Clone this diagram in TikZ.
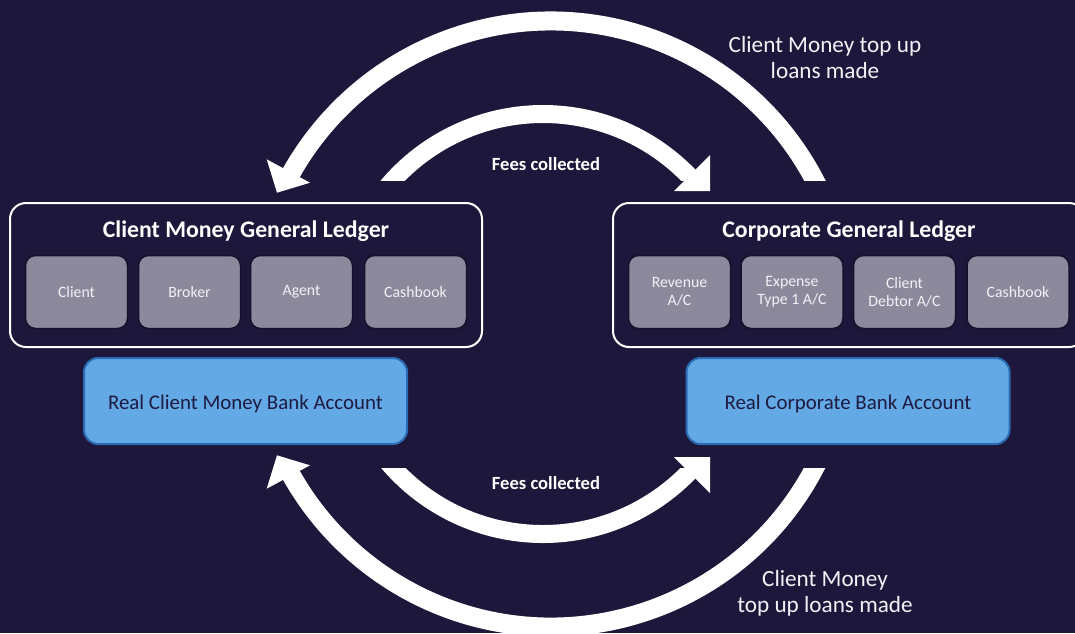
\documentclass[tikz,border=0pt]{standalone}
\usepackage{fontspec}
\setmainfont{Carlito}
\definecolor{bg}{HTML}{1D183B}
\definecolor{subfill}{HTML}{8D899C}
\definecolor{subline}{HTML}{15112C}
\definecolor{bankfill}{HTML}{63A9E6}
\definecolor{bankline}{HTML}{2A6BB3}
\definecolor{banktext}{HTML}{1E1A40}
\definecolor{labeltext}{HTML}{F2F1F6}
\tikzset{
  ledger/.style={draw=white, line width=2pt, rounded corners=16pt, minimum width=472pt, minimum height=144pt},
  ledgertitle/.style={text=white, font=\bfseries\fontsize{23.8}{28}\selectfont},
  subbox/.style={fill=subfill, draw=subline, line width=1.5pt, rounded corners=10pt, minimum width=102pt, minimum height=73pt, text=labeltext, align=center, font=\fontsize{15.8}{18}\selectfont},
  bankbox/.style={fill=bankfill, draw=bankline, line width=2pt, rounded corners=14pt, minimum width=323pt, minimum height=86pt, text=banktext, font=\fontsize{20.9}{24}\selectfont, text height=19pt, text depth=2pt},
  feeslabel/.style={text=white, font=\bfseries\fontsize{18.6}{22}\selectfont},
  flowlabel/.style={text=labeltext, align=center, font=\fontsize{23.2}{26}\selectfont},
  shaftbig/.style={draw=white, line width=19pt},
  shaftsmall/.style={draw=white, line width=18pt},
  headfill/.style={fill=white}
}
\begin{document}
\begin{tikzpicture}[x=1pt,y=-1pt]
\fill[bg] (0,0) rectangle (1075,633);
\useasboundingbox (0,0) rectangle (1075,633);
\clip (0,0) rectangle (1075,633);

% ledgers
\node[ledger] (cmgl) at (246,275) {};
\node[ledgertitle] (cmglT) at (246,231) {Client Money General Ledger};
\node[subbox] (sClient) at (76.5,292) {Client};
\node[subbox] (sBroker) at (189.5,292) {Broker};
\node[subbox] (sAgent) at (301.5,292) {Agent};
\node[subbox] (sCash1) at (415.5,292) {Cashbook};

\node[ledger] (cgl) at (849,275) {};
\node[ledgertitle] (cglT) at (849,231) {Corporate General Ledger};
\node[subbox] (sRev) at (679.5,292) {Revenue\\A/C};
\node[subbox] (sExp) at (792,292) {Expense\\Type 1 A/C};
\node[subbox] (sDeb) at (904.5,292) {Client\\Debtor A/C};
\node[subbox] (sCash2) at (1018,292) {Cashbook};

% banks
\node[bankbox] (bankL) at (245.5,401) {Real Client Money Bank Account};
\node[bankbox] (bankR) at (848,401) {Real Corporate Bank Account};

% arrow tails (free ends)
\coordinate (aTail) at (819.6,190);
\coordinate (bTail) at (385.24,189.25);
\coordinate (cTail) at (385.24,458.75);
\coordinate (dTail) at (819.6,458);

% top arrows
\begin{scope}
\clip (0,0) rectangle (1075,180);
\draw[shaftbig] (aTail) arc[start angle=-25.65, end angle=-151.5, radius=298];
\draw[shaftsmall] (bTail) arc[start angle=-141, end angle=-43, radius=203];
\end{scope}
\fill[headfill] (266.7,159.3) -- (277,192.7) -- (310,182.7) -- cycle;
\fill[headfill] (710,155) -- (710,191) -- (674,191) -- cycle;

% bottom arrows
\begin{scope}
\clip (0,468) rectangle (1075,633);
\draw[shaftbig] (dTail) arc[start angle=25.65, end angle=151.5, radius=298];
\draw[shaftsmall] (cTail) arc[start angle=141, end angle=43, radius=203];
\end{scope}
\fill[headfill] (266.7,488.7) -- (277,455.3) -- (310,465.3) -- cycle;
\fill[headfill] (710,493) -- (710,457) -- (674,457) -- cycle;

% labels
\node[feeslabel] (feesTop) at (546,164) {Fees collected};
\node[feeslabel] (feesBot) at (546,483) {Fees collected};
\node[flowlabel] (loanTop) at (825,58) {Client Money top up\\loans made};
\node[flowlabel] (loanBot) at (825,593) {Client Money\\top up loans made};
\end{tikzpicture}
\end{document}
